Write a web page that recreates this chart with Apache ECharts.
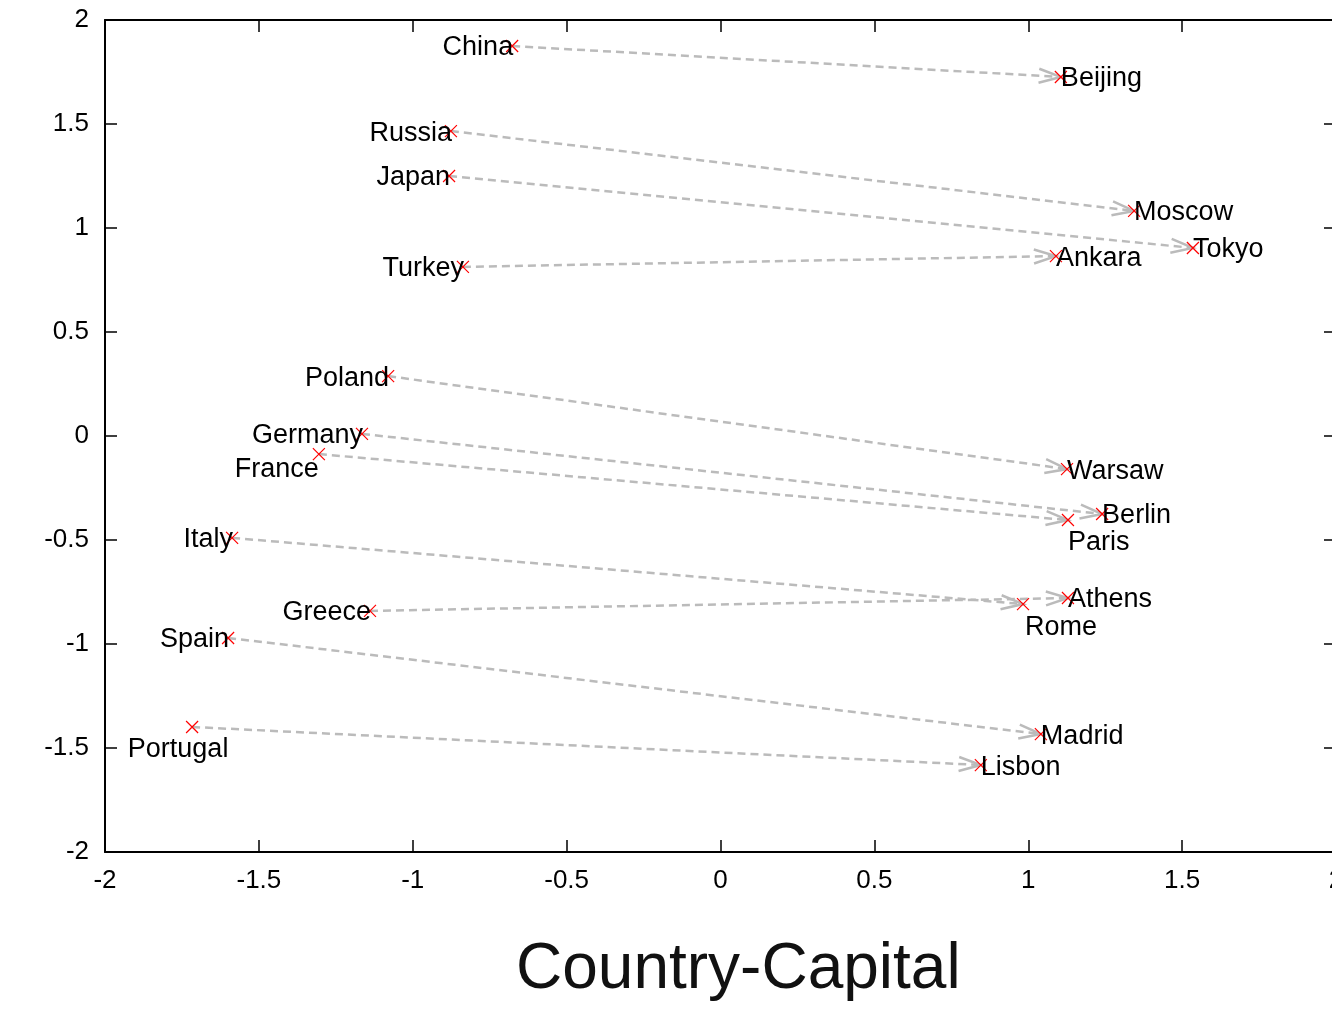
<!DOCTYPE html>
<html>
<head>
<meta charset="utf-8">
<title>Country-Capital</title>
<script src="https://cdn.jsdelivr.net/npm/echarts@6/dist/echarts.min.js"></script>
<style>
  html, body { margin: 0; padding: 0; background: #fff; }
  #chart { width: 1332px; height: 1010px; }
</style>
</head>
<body>
<div id="chart"></div>
<script>
// word pairs
const countries = ['China', 'Russia', 'Japan', 'Turkey', 'Poland', 'Germany', 'France', 'Italy', 'Greece', 'Spain', 'Portugal'];
const capitals = ['Beijing', 'Moscow', 'Tokyo', 'Ankara', 'Warsaw', 'Berlin', 'Paris', 'Rome', 'Athens', 'Madrid', 'Lisbon'];
const countryX = [-0.677, -0.876, -0.882, -0.837, -1.080, -1.165, -1.305, -1.587, -1.139, -1.600, -1.717];
const countryY = [1.875, 1.466, 1.250, 0.813, 0.288, 0.010, -0.087, -0.490, -0.841, -0.971, -1.399];
const capitalX = [1.106, 1.344, 1.535, 1.090, 1.126, 1.240, 1.129, 0.983, 1.129, 1.041, 0.846];
const capitalY = [1.726, 1.082, 0.904, 0.865, -0.159, -0.375, -0.404, -0.808, -0.779, -1.433, -1.582];
const axisTicks = [-2, -1.5, -1, -0.5, 0, 0.5, 1, 1.5, 2];

const FONT = '"Liberation Sans", Arial, Helvetica, sans-serif';
const chart = echarts.init(document.getElementById('chart'));

// labels that sit below the marker instead of beside it
const belowLabels = {
  France: { align: 'right', offset: [0, 15] },
  Portugal: { align: 'center', offset: [-14, 23] },
  Paris: { align: 'left', offset: [0, 23] },
  Rome: { align: 'left', offset: [2, 23] }
};

const labelFor = (name, isCountry) => {
  const b = belowLabels[name];
  return {
    show: true,
    position: 'inside',
    formatter: name,
    color: '#000',
    fontFamily: FONT,
    fontSize: 27,
    verticalAlign: 'middle',
    align: b ? b.align : (isCountry ? 'right' : 'left'),
    offset: b ? b.offset : (isCountry ? [1, 2] : [0, 2])
  };
};

const points = [];
countries.forEach((c, i) => {
  points.push({ name: c, value: [countryX[i], countryY[i]], label: labelFor(c, true) });
});
capitals.forEach((c, i) => {
  points.push({ name: c, value: [capitalX[i], capitalY[i]], label: labelFor(c, false) });
});

const pairs = countries.map((c, i) => [countryX[i], countryY[i], capitalX[i], capitalY[i]]);

const axisBase = {
  type: 'value',
  min: -2,
  max: 2,
  interval: 0.5,
  axisLine: { show: true, onZero: false, lineStyle: { color: '#000', width: 2 } },
  axisTick: { show: true, inside: true, length: 12, lineStyle: { color: '#000', width: 1.5 } },
  splitLine: { show: false }
};
const tickLabel = {
  color: '#000',
  fontFamily: FONT,
  fontSize: 26,
  margin: 16,
  formatter: v => String(axisTicks.find(t => Math.abs(t - v) < 1e-9) ?? v)
};

const option = {
  animation: false,
  backgroundColor: '#fff',
  title: {
    text: 'Country-Capital',
    left: 511,
    top: 933,
    textStyle: { fontFamily: FONT, fontSize: 64, fontWeight: 'normal', color: '#111' }
  },
  grid: { left: 105, top: 20, width: 1231, height: 832, outerBoundsMode: 'none', containLabel: false },
  xAxis: [
    Object.assign({}, axisBase, { position: 'bottom', axisLabel: tickLabel }),
    Object.assign({}, axisBase, { position: 'top', axisLabel: { show: false } })
  ],
  yAxis: [
    Object.assign({}, axisBase, { position: 'left', axisLabel: tickLabel }),
    Object.assign({}, axisBase, { position: 'right', axisLabel: { show: false } })
  ],
  series: [
    {
      // dashed arrows country -> capital
      type: 'custom',
      xAxisIndex: 0,
      yAxisIndex: 0,
      data: pairs,
      z: 2,
      renderItem: function (params, api) {
        const p0 = api.coord([api.value(0), api.value(1)]);
        const p1 = api.coord([api.value(2), api.value(3)]);
        const ang = Math.atan2(p1[1] - p0[1], p1[0] - p0[0]);
        const cos = Math.cos(ang), sin = Math.sin(ang);
        const L = 22, W = 7;
        const bx = p1[0] - L * cos, by = p1[1] - L * sin;
        const stroke = { stroke: '#bbbbbb', lineWidth: 2.5, fill: null };
        return {
          type: 'group',
          children: [
            {
              type: 'line',
              shape: { x1: p0[0], y1: p0[1], x2: p1[0], y2: p1[1] },
              style: Object.assign({ lineDash: [8, 5] }, stroke)
            },
            {
              type: 'polyline',
              shape: { points: [[bx - W * sin, by + W * cos], p1, [bx + W * sin, by - W * cos]] },
              style: stroke
            }
          ]
        };
      }
    },
    {
      type: 'scatter',
      xAxisIndex: 0,
      yAxisIndex: 0,
      z: 3,
      symbol: 'path://M0,0L10,10M0,10L10,0',
      symbolSize: 12,
      itemStyle: { color: 'none', borderColor: '#ff0000', borderWidth: 1.2, opacity: 1 },
      data: points
    }
  ]
};

chart.setOption(option);
</script>
</body>
</html>
